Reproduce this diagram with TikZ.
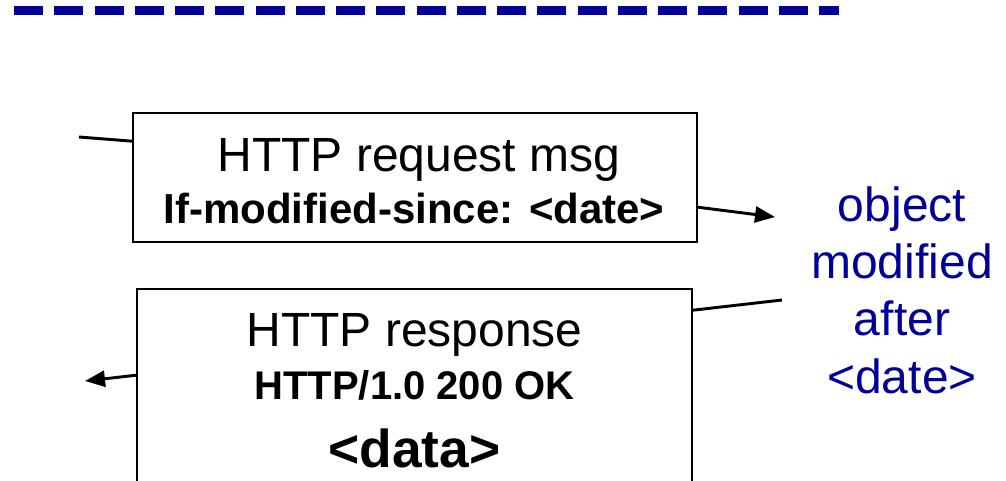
\documentclass[tikz,border=0pt]{standalone}
\usepackage{fontspec}
\setmainfont{Liberation Sans}
\usetikzlibrary{arrows.meta,calc}
\definecolor{darkblue}{RGB}{0,0,153}

\begin{document}
\begin{tikzpicture}[
		x=0.75pt, y=-0.75pt,
		box/.style={draw, line width=1.2pt, inner sep=0},
		wire/.style={line width=2.2pt},
		arrow/.style={wire, -{Triangle[length=15pt,width=12pt]}},
		plain/.style={font=\fontsize{36}{43}\selectfont},
		bold/.style={font=\fontsize{30}{36}\selectfont\bfseries},
	]
	\useasboundingbox (0,0) rectangle (1006,480);
	% dashed separator
	\draw[darkblue, line width=6.75pt, dash pattern=on 21.75pt off 8.44pt] (14,10) -- (839,10);

	% request message
	\node[box, minimum width=423pt, minimum height=96.75pt] (req) at (415,177.5) {};
	\node[plain, anchor=base] (reqline) at (419,171) {HTTP request msg};
	\node[bold, font=\fontsize{31.5}{36}\selectfont\bfseries, anchor=base] (reqhdr) at (414,223) {If-modified-since: <date>};

	% response message
	\node[box, minimum width=416.25pt, minimum height=203.25pt] (resp) at (414.5,424.5) {};
	\node[plain, anchor=base] (respline) at (414.5,346) {HTTP response};
	\node[bold, anchor=base] (resphdr) at (414.5,399) {HTTP/1.0 200 OK};
	\node[font=\fontsize{40}{48}\selectfont\bfseries, anchor=base, inner sep=0.5pt] (respdata) at (414.5,467) {<data>};

	\node[plain, text=darkblue, align=center, anchor=base] (note) at (902,393) {object\\modified\\after\\<date>};

	\coordinate (client1) at (79,137);
	\coordinate (server1) at (775,217);
	\coordinate (server2) at (782,300);
	\coordinate (client2) at (85,381);
	\draw[wire] (client1) -- ($(req.north west)+(0,29)$);
	\draw[arrow] ($(req.north east)+(0,95)$) -- (server1);
	\draw[wire] ($(resp.north east)+(0,22)$) -- (server2);
	\draw[arrow] ($(resp.north west)+(0,87)$) -- (client2);
\end{tikzpicture}
\end{document}
